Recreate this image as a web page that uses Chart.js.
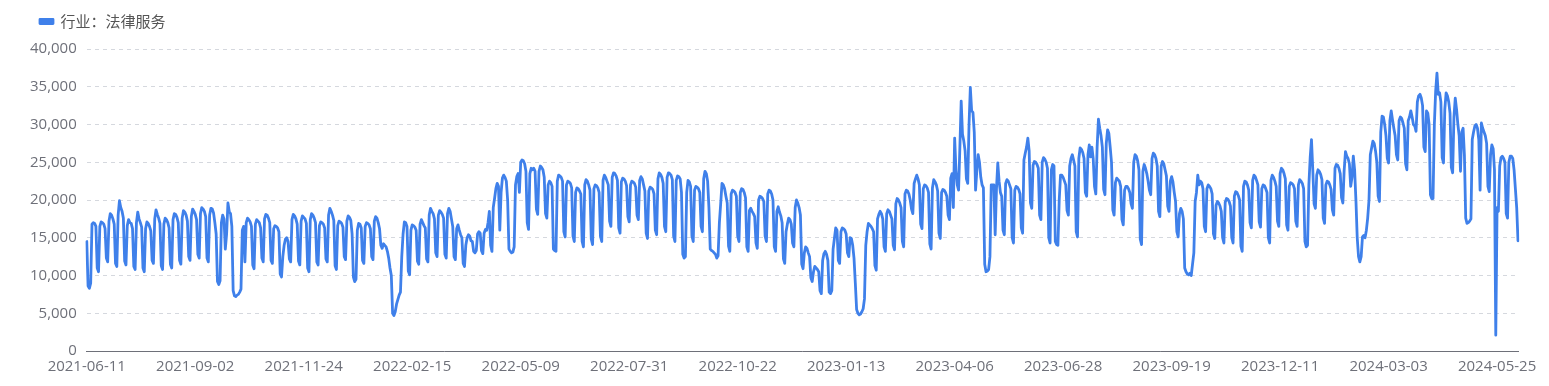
<!DOCTYPE html>
<html>
<head>
<meta charset="utf-8">
<script src="https://cdn.jsdelivr.net/npm/chart.js"></script>
<style>
  html, body { margin: 0; padding: 0; background: #fff; }
  #wrap { width: 1549px; height: 386px; }
</style>
</head>
<body>
<div id="wrap"><canvas id="lineChart"></canvas></div>
<script>
const ctx = document.getElementById('lineChart')

const seriesName = '行业：法律服务'
const startDate = '2021-06-11'
const labelEvery = 83
const yTicks = [0, 5000, 10000, 15000, 20000, 25000, 30000, 35000, 40000]

// daily values, one week (Sat..Fri) per line
let values = [
  14500,
  8600, 8300, 9000, 16800, 17000, 16900, 16500,
  11000, 10500, 16500, 17100, 17000, 16800, 16200,
  12300, 11800, 17200, 18200, 18000, 17500, 16800,
  11600, 11200, 18000, 19900, 19000, 18500, 17600,
  11900, 11400, 16600, 17400, 17000, 16900, 16200,
  11200, 10800, 17000, 18400, 17500, 17000, 16400,
  11000, 10500, 16200, 17100, 16900, 16500, 15900,
  12000, 11600, 17500, 18700, 18100, 17600, 16900,
  11300, 10800, 16800, 17600, 17400, 17000, 16300,
  11500, 11000, 17400, 18200, 18100, 17700, 17000,
  12000, 11500, 17600, 18600, 18400, 18000, 17200,
  12500, 12000, 17800, 18800, 18500, 18100, 17400,
  12800, 12300, 18200, 19000, 18800, 18500, 17800,
  12300, 11800, 18000, 18900, 18800, 18300, 17000,
  15500, 9200, 8800, 9300, 17000, 18000, 17500,
  13500, 15500, 19600, 18500, 18200, 16500, 8000,
  7300, 7200, 7400, 7500, 7800, 8200, 16000,
  16500, 11800, 17000, 17600, 17400, 17100, 16500,
  11400, 10900, 16800, 17400, 17200, 17000, 16300,
  12300, 11800, 17500, 18100, 18000, 17600, 17000,
  12000, 11600, 16200, 16600, 16500, 16300, 15800,
  10200, 9800, 12500, 14000, 14800, 15000, 14500,
  12200, 11800, 17400, 18100, 17900, 17500, 16800,
  11900, 11400, 17200, 17900, 17700, 17500, 16900,
  11000, 10500, 17400, 18200, 18000, 17600, 17000,
  11800, 11400, 16600, 17100, 17000, 16800, 16300,
  12200, 11800, 18000, 18900, 18500, 18000, 17300,
  11300, 10800, 16600, 17200, 17100, 16900, 16400,
  12500, 12100, 17200, 17900, 17700, 17300, 15500,
  9800, 9200, 9500, 16000, 16900, 16800, 16300,
  12000, 11600, 16500, 17000, 16900, 16700, 16200,
  12500, 12100, 17200, 17800, 17600, 17000, 16200,
  14000, 13600, 14200, 14000, 13800, 13200, 12300,
  11000, 10000, 5000, 4700, 5200, 6200, 6800,
  7400, 7800, 12500, 15500, 17100, 17000, 16500,
  10600, 10100, 16000, 16700, 16600, 16400, 16000,
  11900, 11500, 16800, 17400, 17000, 16600, 16300,
  12200, 11800, 18000, 18900, 18500, 18200, 17500,
  13000, 12500, 18000, 18600, 18400, 18100, 17600,
  12800, 12300, 18200, 18900, 18500, 17500, 16500,
  12500, 12100, 16200, 16700, 16000, 15400, 15000,
  11600, 11200, 14000, 15000, 15400, 15200, 14600,
  14500, 13200, 13000, 13300, 15500, 15800, 15600,
  13300, 12900, 15600, 16100, 16000, 17000, 18500,
  14000, 13200, 19000, 20200, 21500, 22200, 21800,
  16000, 21000, 22900, 23300, 23000, 22500, 20000,
  13500, 13200, 13000, 13100, 13800, 22000, 23100,
  23500, 21000, 25000, 25300, 25200, 24800, 23800,
  17000, 16100, 23500, 24200, 24000, 24200, 23800,
  18800, 18100, 23800, 24500, 24300, 24000, 23000,
  18200, 17600, 22000, 22500, 22300, 21800, 13500,
  13300, 13200, 22500, 23300, 23200, 23000, 22500,
  15800, 15100, 22000, 22500, 22400, 22200, 21600,
  15200, 14500, 21000, 21600, 21500, 21200, 20800,
  14500, 13800, 22000, 22700, 22500, 22000, 21300,
  14800, 14100, 21500, 22000, 21900, 21600, 21000,
  15200, 14500, 22600, 23300, 23000, 22500, 22000,
  17200, 16500, 23000, 23600, 23500, 23200, 22600,
  16300, 15600, 22400, 22900, 22800, 22500, 21900,
  17800, 17100, 22000, 22500, 22400, 22200, 21700,
  18000, 17400, 22600, 23100, 22800, 22000, 21200,
  15600, 14900, 21200, 21700, 21600, 21400, 20800,
  16000, 15400, 22800, 23600, 23400, 23000, 22200,
  16500, 15800, 23000, 23600, 23500, 23300, 22700,
  15200, 14500, 22600, 23200, 23100, 22800, 21000,
  12800, 12300, 12500, 21000, 22600, 22400, 21800,
  15200, 14500, 21300, 21800, 21700, 21500, 21000,
  16500, 15800, 22800, 23800, 23500, 22500, 19000,
  13500, 13300, 13200, 13000, 12800, 12300, 12600,
  17000, 19500, 22200, 22000, 21500, 20500, 19600,
  13900, 13200, 20800, 21300, 21200, 21000, 20500,
  15200, 14500, 21000, 21500, 21400, 21000, 20300,
  13800, 13200, 18600, 18900, 18500, 18200, 17800,
  14300, 13600, 20000, 20500, 20400, 20200, 19800,
  15200, 14500, 20800, 21300, 21200, 20800, 20000,
  13800, 13200, 18500, 19100, 18400, 17900, 17000,
  12200, 11600, 15800, 16800, 17600, 17400, 16800,
  14300, 13800, 19000, 20000, 19600, 19000, 18000,
  11500, 10900, 13000, 13800, 13600, 13000, 12500,
  9700, 9200, 10500, 11200, 11000, 10800, 10500,
  8000, 7600, 12000, 12900, 13200, 12800, 12000,
  7800, 7600, 8000, 13500, 14900, 16300, 16000,
  12000, 11600, 15800, 16300, 16200, 16000, 15500,
  13000, 12500, 15000, 14900, 14000, 12300, 9000,
  5500, 5000, 4800, 4900, 5200, 5600, 6900,
  14000, 15800, 16900, 16700, 16500, 16200, 15800,
  11300, 10700, 17500, 18100, 18500, 18200, 17500,
  13800, 13200, 18200, 18700, 18500, 18000, 17500,
  14000, 13400, 19500, 20200, 20000, 19600, 19000,
  14500, 13800, 20800, 21300, 21200, 20800, 20000,
  18800, 18200, 22200, 22800, 23300, 22800, 22000,
  16800, 16200, 21500, 22000, 21900, 21600, 21000,
  14200, 13500, 21600, 22700, 22400, 22000, 21200,
  15600, 14900, 21000, 21400, 21300, 21000, 20500,
  18000, 17400, 22900, 23500, 19000, 28200, 24000,
  22000, 21300, 27000, 33100, 28700, 27800, 26500,
  22800, 22200, 30000, 34900, 31800, 31600, 29000,
  21300, 24000, 26000, 25000, 23000, 22000, 21600,
  11500, 10500, 10600, 10800, 12500, 22000, 22000,
  22000, 15400, 21500, 24900, 22500, 21000, 20500,
  16000, 15400, 22200, 22700, 22500, 22000, 21500,
  15000, 14300, 21300, 21800, 21700, 21400, 20800,
  16300, 15600, 25300, 26200, 27000, 28200, 26500,
  19600, 18900, 24600, 25100, 25000, 24700, 24200,
  18000, 17400, 25000, 25600, 25400, 25000, 24200,
  15000, 14300, 24000, 24700, 24500, 14500, 14100,
  14000, 20000, 23300, 23300, 23000, 22500, 22000,
  18600, 18000, 24500, 25500, 26000, 25300, 24500,
  15800, 15100, 25500, 26900, 26700, 26300, 25500,
  21000, 20500, 26000, 27300, 25700, 27000, 25500,
  21800, 20800, 27000, 30700, 29500, 28500, 27000,
  21400, 20700, 27500, 29300, 28800, 27000, 25000,
  18700, 18000, 22300, 22900, 22700, 22500, 21800,
  17400, 16700, 21300, 21800, 21800, 21500, 21000,
  19500, 18900, 25000, 26000, 25800, 25200, 24000,
  14800, 14100, 23800, 24700, 24200, 23500, 22500,
  21300, 20700, 25500, 26200, 26000, 25500, 24500,
  18500, 17800, 24500, 25100, 24800, 24000, 23200,
  19200, 18500, 22500, 23100, 22400, 21000, 19800,
  15800, 15100, 18200, 18900, 18500, 17500, 11000,
  10500, 10200, 10100, 10300, 10000, 11500, 13000,
  19800, 21000, 23300, 22000, 22500, 22300, 21500,
  16500, 15800, 21500, 22000, 21800, 21500, 20800,
  15500, 14900, 19300, 19800, 19600, 19200, 18500,
  15000, 14300, 19700, 20200, 20100, 19800, 19200,
  15000, 14300, 20500, 21100, 21000, 20600, 20000,
  13900, 13200, 21800, 22500, 22400, 22000, 21300,
  17000, 16300, 22600, 23300, 23100, 22600, 22000,
  17100, 16400, 21500, 22000, 21900, 21500, 21000,
  15000, 14300, 22600, 23300, 23000, 22500, 21800,
  17200, 16500, 23500, 24200, 24000, 23500, 22800,
  16700, 16000, 21800, 22300, 22200, 22000, 21500,
  17200, 16500, 22000, 22700, 22500, 22200, 21500,
  14500, 13800, 14000, 22000, 25600, 28000, 24000,
  19500, 18900, 23300, 24000, 23800, 23400, 22700,
  17600, 16900, 22000, 22500, 22400, 22000, 21400,
  18700, 18000, 24200, 24700, 24600, 24200, 23500,
  20300, 19600, 23900, 26400, 25800, 25500, 24800,
  21800, 23000, 25800, 24000, 20000, 15000, 12500,
  11800, 12500, 15100, 15300, 15000, 16000, 17600,
  20000, 26000, 26900, 27800, 27500, 26500, 25000,
  20500, 19800, 29000, 31100, 31000, 30000, 28500,
  25500, 24900, 30500, 31800, 30600, 29500, 28500,
  26000, 25300, 30500, 31000, 30800, 30200, 29500,
  24800, 24000, 30500, 31000, 31800, 31000, 30000,
  29800, 29100, 33000, 33800, 34000, 33500, 32500,
  27000, 26400, 31800, 31500, 30000, 20700, 20200,
  20200, 30000, 34400, 36800, 34000, 34200, 33000,
  25600, 24900, 32000, 34200, 33800, 33000, 31500,
  24300, 23600, 31000, 33500, 32000, 30000, 28500,
  23800, 29000, 29500, 26000, 17600, 16900, 17000,
  17200, 17500, 28000, 29000, 29800, 30000, 29500,
  28000, 21300, 30200, 29500, 29000, 28500, 27500,
  21800, 21100, 26000, 27300, 26800, 24000, 2100,
  19000, 18500, 24500, 25600, 25800, 25500, 25000,
  18200, 17600, 25000, 25800, 25800, 25500, 24000,
  21500, 19000, 14600
]

// one date label per value, starting at startDate
let labelsX = values.map((v, i) => {
  const d = new Date(startDate + 'T00:00:00Z')
  d.setUTCDate(d.getUTCDate() + i)
  return d.toISOString().slice(0, 10)
})

const cjkFont = '"Noto Sans CJK SC", "Noto Sans", sans-serif'
const tickFont = '"Open Sans", "Noto Sans", sans-serif'
const axisColor = '#6e7079'

// push the legend a little right and leave a gap under it
const legendSpacing = {
  id: 'legendSpacing',
  beforeInit(chart) {
    const fit = chart.legend.fit
    chart.legend.fit = function () {
      fit.bind(chart.legend)()
      this.height += 10
    }
  },
  afterLayout(chart) {
    chart.legend.left += 10
    chart.legend.right += 10
  },
}

new Chart(ctx, {
  type: 'line',
  data: {
    labels: labelsX,
    datasets: [{
      label: seriesName,
      data: values,
      borderColor: '#3f80ea',
      backgroundColor: '#3f80ea',
      borderWidth: 2.8,
      pointRadius: 0,
      tension: 0,
      borderJoinStyle: 'round',
      borderCapStyle: 'round',
    }],
  },
  options: {
    responsive: true,
    maintainAspectRatio: false,
    animation: false,
    layout: {
      padding: { left: 20, right: 31, top: 4, bottom: 3 },
    },
    scales: {
      x: {
        grid: { display: false, drawTicks: false },
        border: { display: true, color: axisColor, width: 1 },
        ticks: {
          autoSkip: false,
          maxRotation: 0,
          padding: 7,
          color: axisColor,
          font: { size: 15, family: tickFont },
          callback: function (val, index) {
            return index % labelEvery === 0 ? this.getLabelForValue(val) : null
          },
        },
      },
      y: {
        min: yTicks[0],
        max: yTicks[yTicks.length - 1],
        afterBuildTicks: (axis) => { axis.ticks = yTicks.map(v => ({ value: v })) },
        grid: { color: '#d5d8de', drawTicks: false },
        border: { display: false, dash: [4, 4] },
        ticks: {
          padding: 10,
          color: axisColor,
          font: { size: 15, family: tickFont },
          callback: (v) => v.toLocaleString('en-US'),
        },
      },
    },
    plugins: {
      legend: {
        display: true,
        position: 'top',
        align: 'start',
        labels: {
          boxWidth: 13,
          boxHeight: 4,
          padding: 10,
          color: '#555',
          font: { size: 15, family: cjkFont },
        },
      },
      tooltip: { enabled: false },
    },
  },
  plugins: [legendSpacing],
})
</script>
</body>
</html>
